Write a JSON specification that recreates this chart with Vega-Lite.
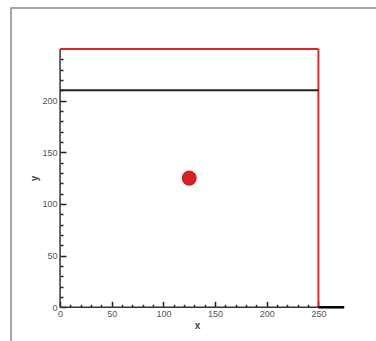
{
  "$schema": "https://vega.github.io/schema/vega-lite/v6.json",
  "width": 372,
  "height": 340,
  "autosize": "none",
  "padding": {"left": 11, "top": 8, "right": 0, "bottom": 0},
  "background": "white",
  "config": {
    "view": {"stroke": "#8a8a8a", "strokeWidth": 1.5},
    "axis": {"grid": false, "domain": false, "labelFont": "Liberation Sans", "labelFontSize": 9, "labelColor": "#555", "tickColor": "#222", "tickWidth": 1.5, "titleFont": "Liberation Sans", "titleFontSize": 10, "titleColor": "#444"}
  },
  "datasets": {
    "frame": [{"x": 0, "x2": 250, "y": 250, "y2": 250}, {"x": 250, "x2": 250, "y": 0, "y2": 250}],
    "black": [{"x": 0, "x2": 250, "y": 210, "y2": 210}],
    "axes": [{"x": 0, "x2": 250, "y": 0, "y2": 0}, {"x": 0, "x2": 0, "y": 0, "y2": 250}],
    "tail": [{"x": 250, "x2": 275, "y": 0, "y2": 0}],
    "pt": [{"x": 125, "y": 125}]
  },
  "resolve": {"axis": {"x": "independent", "y": "independent"}},
  "layer": [
    {
      "data": {"name": "axes"},
      "mark": {"type": "rule", "color": "#333", "strokeWidth": 1.5},
      "encoding": {
        "x": {"field": "x", "type": "quantitative", "scale": {"domain": [-47.5, 312.5], "nice": false, "zero": false},
          "axis": {"orient": "bottom", "offset": -40.7, "values": [0, 50, 100, 150, 200, 250], "tickSize": -6, "labelPadding": 8, "title": "x", "titlePadding": 2}},
        "x2": {"field": "x2"},
        "y": {"field": "y", "type": "quantitative", "scale": {"domain": [-39.4, 289.6], "nice": false, "zero": false},
          "axis": {"orient": "left", "offset": -49, "values": [0, 50, 100, 150, 200], "tickSize": -6, "labelPadding": 9, "title": "y", "titlePadding": 2}},
        "y2": {"field": "y2"}
      }
    },
    {
      "data": {"name": "pt"},
      "mark": {"type": "point", "filled": true, "color": "#d42027", "opacity": 1, "size": 227},
      "encoding": {
        "x": {"field": "x", "type": "quantitative", "scale": {"domain": [-47.5, 312.5], "nice": false, "zero": false},
          "axis": {"orient": "bottom", "offset": -40.7, "values": [10, 20, 30, 40, 60, 70, 80, 90, 110, 120, 130, 140, 160, 170, 180, 190, 210, 220, 230, 240], "tickSize": -3, "labels": false, "title": null}},
        "y": {"field": "y", "type": "quantitative", "scale": {"domain": [-39.4, 289.6], "nice": false, "zero": false},
          "axis": {"orient": "left", "offset": -49, "values": [10, 20, 30, 40, 60, 70, 80, 90, 110, 120, 130, 140, 160, 170, 180, 190, 210, 220, 230, 240], "tickSize": -3, "labels": false, "title": null}}
      }
    },
    {
      "data": {"name": "frame"},
      "mark": {"type": "rule", "color": "#e3262c", "strokeWidth": 2},
      "encoding": {
        "x": {"field": "x", "type": "quantitative", "scale": {"domain": [-47.5, 312.5], "nice": false, "zero": false}, "axis": null},
        "x2": {"field": "x2"},
        "y": {"field": "y", "type": "quantitative", "scale": {"domain": [-39.4, 289.6], "nice": false, "zero": false}, "axis": null},
        "y2": {"field": "y2"}
      }
    },
    {
      "data": {"name": "black"},
      "mark": {"type": "rule", "color": "#222", "strokeWidth": 2},
      "encoding": {
        "x": {"field": "x", "type": "quantitative", "scale": {"domain": [-47.5, 312.5], "nice": false, "zero": false}, "axis": null},
        "x2": {"field": "x2"},
        "y": {"field": "y", "type": "quantitative", "scale": {"domain": [-39.4, 289.6], "nice": false, "zero": false}, "axis": null},
        "y2": {"field": "y2"}
      }
    },
    {
      "data": {"name": "tail"},
      "mark": {"type": "rule", "color": "#000", "strokeWidth": 2.5},
      "encoding": {
        "x": {"field": "x", "type": "quantitative", "scale": {"domain": [-47.5, 312.5], "nice": false, "zero": false}, "axis": null},
        "x2": {"field": "x2"},
        "y": {"field": "y", "type": "quantitative", "scale": {"domain": [-39.4, 289.6], "nice": false, "zero": false}, "axis": null},
        "y2": {"field": "y2"}
      }
    }
  ]
}
